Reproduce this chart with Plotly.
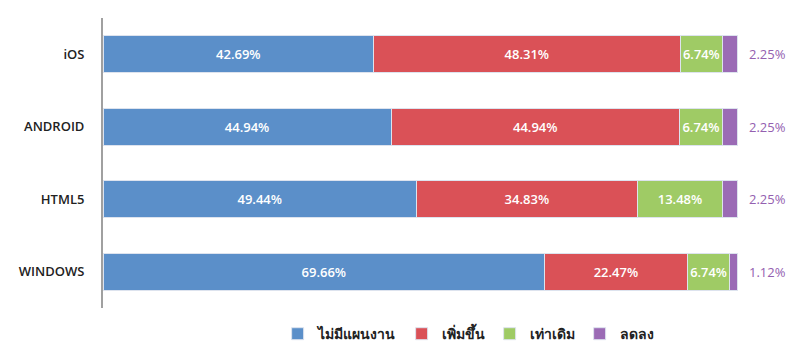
import plotly.graph_objects as go

categories = ["iOS", "ANDROID", "HTML5", "WINDOWS"]
series_names = ["ไม่มีแผนงาน", "เพิ่มขึ้น", "เท่าเดิม", "ลดลง"]
no_plan = [42.69, 44.94, 49.44, 69.66]
increase = [48.31, 44.94, 34.83, 22.47]
same = [6.74, 6.74, 13.48, 6.74]
decrease = [2.25, 2.25, 2.25, 1.12]
colors = ["#5B8FC9", "#DA5157", "#9FCB65", "#9B6BB5"]

fig = go.Figure()
for name, vals, col, show in zip(series_names, [no_plan, increase, same, decrease], colors,
                                 [True, True, True, False]):
    fig.add_trace(go.Bar(
        y=categories, x=vals, name=name, orientation="h",
        marker=dict(color=col, line=dict(color="#DDE3EE", width=1)),
        text=[f"{v:.2f}%" for v in vals] if show else None,
        textposition="inside" if show else "none",
        insidetextanchor="middle",
        textfont=dict(color="white", size=13, family="Open Sans", weight=600),
        hoverinfo="skip",
    ))

for c, v in zip(categories, decrease):
    fig.add_annotation(x=101.6, y=c, text=f"{v:.2f}%", showarrow=False,
                       xanchor="left", font=dict(color="#9460B0", size=13, family="Open Sans"))

fig.update_layout(
    barmode="stack", barnorm="percent", width=812, height=355,
    margin=dict(l=103, r=0, t=18, b=47),
    plot_bgcolor="white", paper_bgcolor="white",
    bargap=0.49,
    xaxis=dict(range=[0, 111.83], visible=False, fixedrange=True),
    yaxis=dict(categoryorder="array", categoryarray=categories[::-1],
               showline=True, linecolor="#A0A0A0", linewidth=2, ticks="",
               ticklabelstandoff=14,
               tickfont=dict(size=13, color="#222", family="Open Sans", weight=600)),
    legend=dict(orientation="h", x=0.515, xanchor="center", y=-0.09, yanchor="middle",
                font=dict(size=14, color="#222", family="Noto Sans, Open Sans", weight=600),
                itemwidth=30, traceorder="normal"),
    showlegend=True,
)
fig.write_html("out.html")
